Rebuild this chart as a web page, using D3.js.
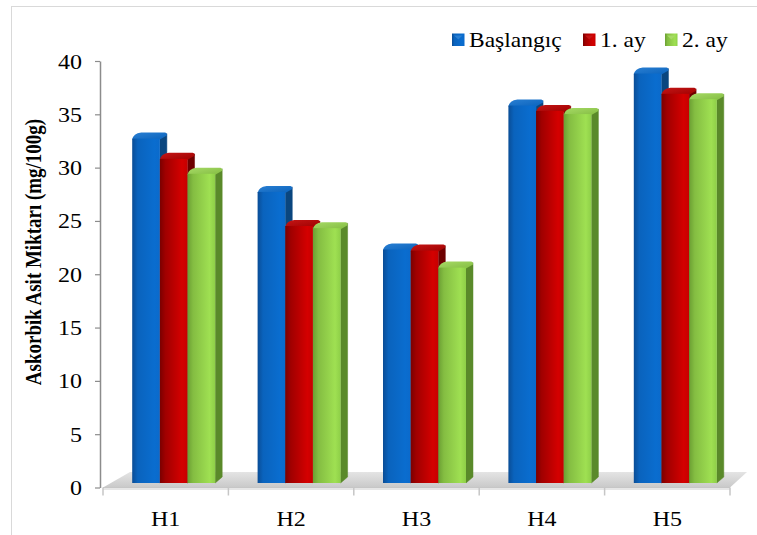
<!DOCTYPE html>
<html><head><meta charset="utf-8">
<script src="https://cdn.jsdelivr.net/npm/d3@7"></script>
<style>body{margin:0;background:#fff}svg{display:block}
svg text{font-family:"Liberation Serif","Times New Roman","DejaVu Serif",serif;}</style>
</head><body>
<svg id="c" width="757" height="535"></svg>
<script>
const categories = ["H1","H2","H3","H4","H5"];
const seriesNames = ["Başlangıç","1. ay","2. ay"];
const baslangic = [32.3, 27.3, 21.9, 35.4, 38.4];
const ay1 = [30.4, 24.1, 21.8, 34.9, 36.5];
const ay2 = [29.0, 23.9, 20.2, 34.6, 36.0];
const yTicks = [0,5,10,15,20,25,30,35,40];
const yTitle = "Askorbik Asit Miktarı (mg/100g)";

const seriesValues = [baslangic, ay1, ay2];
const styles = [
  {front:["#0a4d96","#0a63bd","#0a6dcf","#0b6acb"], side:"#0a467f", cap:"#2a7fd2"},
  {front:["#7a0000","#a00000","#d40000","#c60000"], side:"#6e0000", cap:"#c41616"},
  {front:["#6b9f33","#84bd42","#9fe052","#8ecf48"], side:"#5a8a2a", cap:"#a6da66"}
];
const sx = 1.2; // horizontal text stretch
const FONT = '"Liberation Serif","Times New Roman","DejaVu Serif",serif';

const svg = d3.select("#c");
const defs = svg.append("defs");
styles.forEach((s,i)=>{
  const g = defs.append("linearGradient").attr("id","gf"+i).attr("x1","0").attr("x2","1").attr("y1","0").attr("y2","0");
  [0,0.2,0.8,1].forEach((o,k)=>g.append("stop").attr("offset",o).attr("stop-color",s.front[k]));
  const l = defs.append("linearGradient").attr("id","gl"+i).attr("x1","0").attr("x2","1").attr("y1","0").attr("y2","1");
  l.append("stop").attr("offset",0).attr("stop-color",s.cap);
  l.append("stop").attr("offset",1).attr("stop-color",s.front[1]);
});
const fg = defs.append("linearGradient").attr("id","floor").attr("x1","0").attr("x2","0").attr("y1","0").attr("y2","1");
fg.append("stop").attr("offset",0).attr("stop-color","#e4e4e4");
fg.append("stop").attr("offset",1).attr("stop-color","#c9c9c9");

svg.append("rect").attr("x",11.5).attr("y",6.5).attr("width",800).attr("height",600)
  .attr("fill","none").attr("stroke","#d9d9d9").attr("stroke-width",1);

const y = d3.scaleLinear().domain([0,40]).range([487.5,61]);
const x = d3.scaleBand().domain(categories).range([103,730]).padding(0);
const depthX = 7, depthY = 6, shiftX = 8, shiftY = 4.5;
const groupW = 83;
const x1 = d3.scaleBand().domain(seriesNames).range([0,groupW]).padding(0);

const fx0 = x.range()[0], fx1 = x.range()[1], fy = y(0);
svg.append("polygon")
  .attr("points",[[fx0,fy],[fx0+27,fy-15.5],[fx1+17,fy-15.5],[fx1,fy]].map(p=>p.join(",")).join(" "))
  .attr("fill","url(#floor)");
svg.append("rect").attr("x",fx0).attr("y",fy).attr("width",fx1-fx0).attr("height",2.5).attr("fill","#e6e6e6");

svg.append("line").attr("x1",fx0).attr("x2",fx1).attr("y1",fy).attr("y2",fy).attr("stroke","#c6c6c6").attr("stroke-width",1.2);
const bounds = categories.map(c=>x(c)).concat([fx1]);
svg.selectAll(".xt").data(bounds).enter().append("line")
  .attr("x1",d=>d).attr("x2",d=>d).attr("y1",fy).attr("y2",fy+8)
  .attr("stroke","#c6c6c6").attr("stroke-width",1.5);

const barsG = svg.append("g");
categories.forEach((c,ci)=>{
  seriesNames.forEach((s,si)=>{
    const v = seriesValues[si][ci];
    const bx = x(c) + (x.bandwidth()-groupW)/2 + shiftX + x1(s);
    const w = x1.bandwidth();
    const top = y(v) - shiftY, bot = y(0) - shiftY;
    const g = barsG.append("g");
    g.append("polygon").attr("points",[[bx+w,top],[bx+w+depthX,top-depthY+1],[bx+w+depthX,bot-depthY],[bx+w,bot]].map(p=>p.join(",")).join(" "))
      .attr("fill",styles[si].side).attr("stroke",styles[si].side).attr("stroke-width",0.5).attr("stroke-linejoin","round");
    g.append("path").attr("d",`M${bx},${top+1} Q${bx+1},${top-depthY+1} ${bx+depthX+2},${top-depthY} L${bx+w+depthX-2},${top-depthY} Q${bx+w+depthX},${top-depthY} ${bx+w+depthX},${top-depthY+3} L${bx+w},${top+1} Z`)
      .attr("fill","url(#gl"+si+")");
    g.append("rect").attr("x",bx).attr("y",top).attr("width",w).attr("height",bot-top)
      .attr("fill","url(#gf"+si+")");
  });
});

const yAxis = d3.axisLeft(y).tickValues(yTicks).tickSize(5).tickPadding(0).tickSizeOuter(0);
const ya = svg.append("g").attr("transform","translate(100,0)").call(yAxis);
ya.attr("font-family",null).attr("font-size",null);
ya.select(".domain").attr("stroke","#8c8c8c").attr("stroke-width",1.5);
ya.selectAll(".tick line").attr("stroke","#8c8c8c").attr("stroke-width",1.2);
ya.selectAll(".tick text")
  .style("font-family",FONT).style("font-size","20px").attr("fill","#000")
  .attr("x",-18/sx).attr("dy",null).attr("y",7).attr("transform",`scale(${sx},1)`);

svg.selectAll(".xl").data(categories).enter().append("text")
  .attr("transform",d=>`translate(${x(d)+x.bandwidth()/2},526) scale(${sx},1)`)
  .attr("text-anchor","middle")
  .style("font-family",FONT).style("font-size","20px")
  .text(d=>d);

svg.append("text")
  .attr("transform",`translate(41,252) scale(${sx},1) rotate(-90)`)
  .attr("text-anchor","middle")
  .style("font-family",FONT).style("font-size","19px").style("font-weight","bold")
  .text(yTitle);

const legX = [452,583,665];
const lg = svg.append("g");
seriesNames.forEach((s,i)=>{
  lg.append("rect").attr("x",legX[i]).attr("y",33.5).attr("width",12.5).attr("height",12.5).attr("fill","url(#gf"+i+")");
  lg.append("path").attr("d",`M${legX[i]+2},${35.5} L${legX[i]+10.5},${35.5} L${legX[i]+6.25},${39.5} Z`).attr("fill",styles[i].cap);
  lg.append("text").attr("transform",`translate(${legX[i]+17},47) scale(${sx*0.98},1)`)
    .style("font-family",FONT).style("font-size","20px")
    .text(s);
});
</script>
</body></html>
